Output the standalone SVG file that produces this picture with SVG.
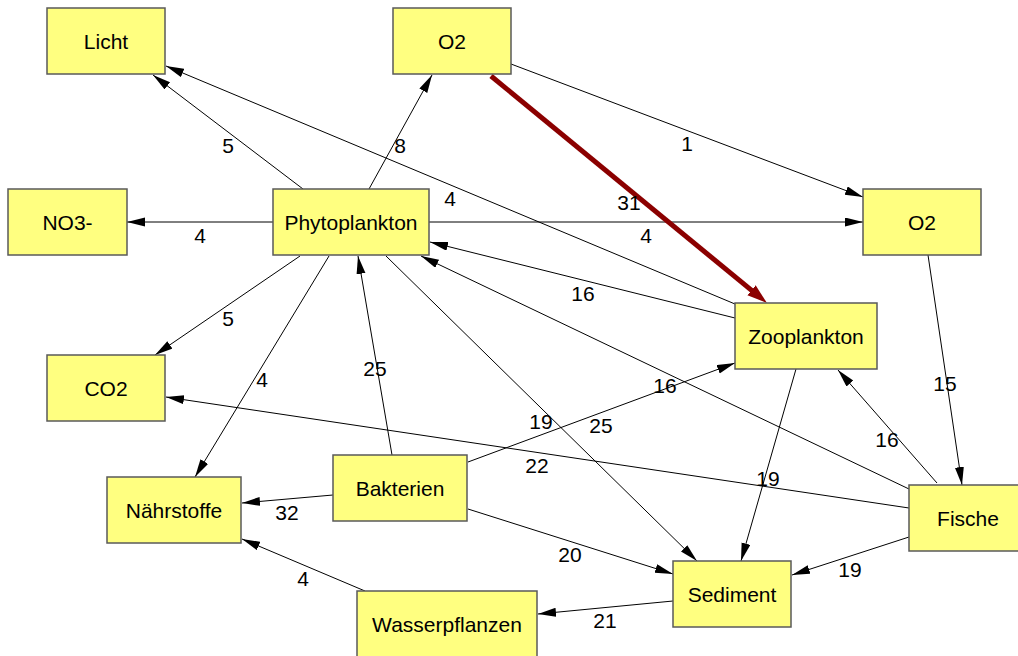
<svg xmlns="http://www.w3.org/2000/svg" width="1018" height="656" viewBox="0 0 1018 656">
<defs>
<style>
.node rect{fill:#ffff80;stroke:#5a5a5a;stroke-width:1.5}
.node text{font-family:"Liberation Sans",Arial,sans-serif;font-size:21px;fill:#000;text-anchor:middle}
.edge{stroke:#000;stroke-width:1;fill:none;marker-end:url(#ah)}
.edge.hot{stroke:#8b0000;stroke-width:5;marker-end:url(#ahr)}
.lbl{font-family:"Liberation Sans",Arial,sans-serif;font-size:21px;fill:#000;text-anchor:middle}
</style>
<marker id="ah" markerUnits="userSpaceOnUse" markerWidth="18" markerHeight="10" refX="18" refY="4.5" orient="auto">
<path d="M0,0 L18,4.5 L0,9 Z" fill="#000"/>
</marker>
<marker id="ahr" markerUnits="userSpaceOnUse" markerWidth="22" markerHeight="14" refX="8" refY="6.5" orient="auto">
<path d="M0,0 L20,6.5 L0,13 Z" fill="#8b0000"/>
</marker>
</defs>
<rect width="1018" height="656" fill="#fff"/>
<g id="connectors">
<line class="edge" x1="303" y1="189" x2="153" y2="75"/>
<line class="edge" x1="735" y1="304" x2="166" y2="66"/>
<line class="edge" x1="369" y1="189" x2="432" y2="75"/>
<line class="edge" x1="511" y1="64" x2="863" y2="197"/>
<line class="edge" x1="273" y1="222" x2="127" y2="222"/>
<line class="edge" x1="429" y1="222" x2="863" y2="222"/>
<line class="edge" x1="735" y1="318" x2="430" y2="242"/>
<line class="edge" x1="909" y1="489" x2="421" y2="256"/>
<line class="edge" x1="300" y1="256" x2="155" y2="355"/>
<line class="edge" x1="329" y1="256" x2="195" y2="477"/>
<line class="edge" x1="392" y1="455" x2="358" y2="256"/>
<line class="edge" x1="386" y1="256" x2="697" y2="561"/>
<line class="edge" x1="468" y1="462" x2="735" y2="363"/>
<line class="edge" x1="909" y1="508" x2="166" y2="397"/>
<line class="edge" x1="796" y1="369" x2="741" y2="561"/>
<line class="edge" x1="937" y1="483" x2="838" y2="370"/>
<line class="edge" x1="928" y1="255" x2="962" y2="485"/>
<line class="edge" x1="333" y1="495" x2="242" y2="503"/>
<line class="edge" x1="468" y1="509" x2="673" y2="574"/>
<line class="edge" x1="909" y1="537" x2="792" y2="575"/>
<line class="edge" x1="365" y1="591" x2="242" y2="539"/>
<line class="edge" x1="673" y1="601" x2="538" y2="614"/>
<line class="edge hot" x1="491" y1="76" x2="757.7" y2="295.4"/>
<text class="lbl" x="228" y="153">5</text>
<text class="lbl" x="450" y="206">4</text>
<text class="lbl" x="400" y="153">8</text>
<text class="lbl" x="687" y="151">1</text>
<text class="lbl" x="629" y="210">31</text>
<text class="lbl" x="200" y="243">4</text>
<text class="lbl" x="646" y="243">4</text>
<text class="lbl" x="583" y="301">16</text>
<text class="lbl" x="665" y="393">16</text>
<text class="lbl" x="228" y="326">5</text>
<text class="lbl" x="262" y="387">4</text>
<text class="lbl" x="375" y="376">25</text>
<text class="lbl" x="541" y="429">19</text>
<text class="lbl" x="601" y="433">25</text>
<text class="lbl" x="537" y="473">22</text>
<text class="lbl" x="768" y="486">19</text>
<text class="lbl" x="887" y="447">16</text>
<text class="lbl" x="945" y="391">15</text>
<text class="lbl" x="287" y="520">32</text>
<text class="lbl" x="570" y="562">20</text>
<text class="lbl" x="850" y="577">19</text>
<text class="lbl" x="303" y="586">4</text>
<text class="lbl" x="605" y="628">21</text>
</g>
<g id="licht" class="node"><rect x="47" y="8" width="118" height="66"/><text x="106" y="49">Licht</text></g>
<g id="o2-top" class="node"><rect x="393" y="8" width="118" height="66"/><text x="452" y="49">O2</text></g>
<g id="no3" class="node"><rect x="8" y="189" width="119" height="66"/><text x="67.5" y="230">NO3-</text></g>
<g id="phytoplankton" class="node"><rect x="273" y="189" width="156" height="66"/><text x="351" y="230">Phytoplankton</text></g>
<g id="o2-right" class="node"><rect x="863" y="189" width="118" height="66"/><text x="922" y="230">O2</text></g>
<g id="co2" class="node"><rect x="47" y="355" width="118" height="66"/><text x="106" y="396">CO2</text></g>
<g id="naehrstoffe" class="node"><rect x="107" y="477" width="134" height="66"/><text x="174" y="518">Nährstoffe</text></g>
<g id="bakterien" class="node"><rect x="333" y="455" width="134" height="66"/><text x="400" y="496">Bakterien</text></g>
<g id="wasserpflanzen" class="node"><rect x="357" y="591" width="180" height="66"/><text x="447" y="632">Wasserpflanzen</text></g>
<g id="zooplankton" class="node"><rect x="735" y="303" width="142" height="66"/><text x="806" y="344">Zooplankton</text></g>
<g id="fische" class="node"><rect x="909" y="485" width="118" height="66"/><text x="968" y="526">Fische</text></g>
<g id="sediment" class="node"><rect x="673" y="561" width="118" height="66"/><text x="732" y="602">Sediment</text></g>
</svg>
